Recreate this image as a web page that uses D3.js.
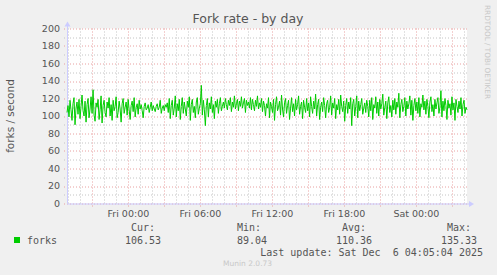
<!DOCTYPE html>
<html>
<head>
<meta charset="utf-8">
<script src="https://cdn.jsdelivr.net/npm/d3@7"></script>
<style>
  body { margin: 0; background: #f0f0f0; }
  svg { display: block; }
  text { font-family: "DejaVu Sans", sans-serif; }
  .mono { font-family: "DejaVu Sans Mono", monospace; }
</style>
</head>
<body>
<div id="chart"></div>
<script>
// svg container
var svgWidth = 497;
var svgHeight = 275;

// plot area
var margin = { top: 28.5, left: 67, right: 30, bottom: 71.5 };
var width = 400;
var height = 175;

// data - forks/second, one sample per 5 minutes
var startTime = new Date(Date.UTC(2025, 11, 4, 18, 53));
var endTime = new Date(Date.UTC(2025, 11, 6, 4, 13));

var forks = [
  104,112,99,118,107,95,114,121,90,109,116,102,119,97,111,124,106,100,117,93,
  113,120,98,108,122,103,130,101,94,115,110,119,96,107,123,92,112,118,104,99,
  116,109,121,100,113,95,118,106,111,122,98,104,117,108,93,114,120,103,110,116,
  101,119,107,96,112,117,105,121,99,110,114,102,118,108,113,106,98,111,115,107,
  109,113,104,110,116,106,112,108,105,111,114,107,110,118,103,109,112,106,113,110,
  115,104,120,97,112,118,101,109,123,99,114,106,119,96,111,121,103,116,108,100,
  117,110,122,95,113,119,104,111,98,116,121,102,109,114,135,101,118,107,89,112,
  120,99,115,108,122,104,113,97,117,110,119,103,114,121,106,111,116,109,120,113,
  107,118,112,121,105,116,110,123,108,114,119,106,117,111,122,109,115,120,104,118,
  112,116,109,121,107,119,113,106,118,111,123,108,115,110,120,105,117,112,100,114,
  109,121,98,116,111,104,119,95,113,122,106,110,117,101,124,108,99,115,120,103,
  112,118,96,109,121,105,114,100,119,107,113,123,102,111,116,97,118,110,104,120,
  106,115,99,122,111,103,117,108,125,100,113,119,96,110,116,105,121,112,98,114,
  118,104,110,123,101,115,109,120,97,113,107,119,102,124,111,105,117,94,112,120,
  103,116,108,121,89,114,119,100,111,123,98,117,106,113,120,102,109,115,104,118,
  111,99,118,106,121,96,113,109,122,103,116,100,119,108,114,125,101,110,117,97,
  115,122,104,112,99,118,107,120,102,116,110,126,98,113,119,105,111,121,100,117,
  108,114,123,101,118,95,112,120,106,116,103,121,99,114,110,124,107,117,102,119,
  111,98,116,122,105,113,100,119,108,115,121,103,110,129,99,117,106,120,112,96,
  118,109,114,101,122,107,115,95,119,111,104,117,108,121,100,113,118,103,110,107
];

var yTicks = [0, 20, 40, 60, 80, 100, 120, 140, 160, 180, 200];

var legendLabels = ["Cur:", "Min:", "Avg:", "Max:"];
var legendValues = ["106.53", "89.04", "110.36", "135.33"];
var legendRight = [155, 261, 366, 471];

var svg = d3.select("#chart")
  .append("svg")
  .attr("width", svgWidth)
  .attr("height", svgHeight);

svg.append("rect")
  .attr("width", svgWidth)
  .attr("height", svgHeight)
  .attr("fill", "#f0f0f0");

var chartGroup = svg.append("g")
  .attr("transform", `translate(${margin.left}, ${margin.top})`);

// scales
var xScale = d3.scaleUtc()
  .domain([startTime, endTime])
  .range([0, width]);

var yScale = d3.scaleLinear()
  .domain([0, 200])
  .range([height, 0]);

// plot background
chartGroup.append("rect")
  .attr("width", width)
  .attr("height", height)
  .attr("fill", "#ffffff");

// minor grid
var hours = xScale.ticks(d3.utcHour.every(1));
var minorY = d3.range(10, 201, 20);

chartGroup.selectAll(".vminor")
  .data(hours.filter(d => d.getUTCHours() % 3 !== 0))
  .enter()
  .append("line")
  .attr("x1", d => Math.round(xScale(d)) + 0.5)
  .attr("x2", d => Math.round(xScale(d)) + 0.5)
  .attr("y1", 0)
  .attr("y2", height + 2)
  .attr("stroke", "#c4c4c4")
  .attr("stroke-dasharray", "1,2");

chartGroup.selectAll(".hminor")
  .data(minorY)
  .enter()
  .append("line")
  .attr("x1", -3)
  .attr("x2", width + 2)
  .attr("y1", d => Math.round(yScale(d)) + 0.5)
  .attr("y2", d => Math.round(yScale(d)) + 0.5)
  .attr("stroke", "#c4c4c4")
  .attr("stroke-dasharray", "1,2");

// major grid
chartGroup.selectAll(".vmajor")
  .data(hours.filter(d => d.getUTCHours() % 3 === 0))
  .enter()
  .append("line")
  .attr("x1", d => Math.round(xScale(d)) + 0.5)
  .attr("x2", d => Math.round(xScale(d)) + 0.5)
  .attr("y1", 0)
  .attr("y2", height + 3)
  .attr("stroke", "#e8a0a0")
  .attr("stroke-dasharray", "1,2");

chartGroup.selectAll(".hmajor")
  .data(yTicks)
  .enter()
  .append("line")
  .attr("x1", -3)
  .attr("x2", width + 2)
  .attr("y1", d => Math.round(yScale(d)) + 0.5)
  .attr("y2", d => Math.round(yScale(d)) + 0.5)
  .attr("stroke", "#e8a0a0")
  .attr("stroke-dasharray", "1,2");

// y tick labels
chartGroup.selectAll(".ylab")
  .data(yTicks)
  .enter()
  .append("text")
  .attr("x", -7)
  .attr("y", d => yScale(d))
  .attr("dy", "0.35em")
  .attr("text-anchor", "end")
  .attr("font-size", "9.5px")
  .attr("fill", "#555")
  .text(d => d);

// x tick labels
var fmt = d3.utcFormat("%a %H:%M");
chartGroup.selectAll(".xlab")
  .data(xScale.ticks(d3.utcHour.every(6)))
  .enter()
  .append("text")
  .attr("x", d => xScale(d))
  .attr("y", height + 13)
  .attr("text-anchor", "middle")
  .attr("font-size", "9.5px")
  .attr("fill", "#555")
  .text(d => fmt(d));

// axes
chartGroup.append("line")
  .attr("x1", 0.5).attr("x2", 0.5)
  .attr("y1", height).attr("y2", -4)
  .attr("stroke", "#ccccff");
chartGroup.append("path")
  .attr("d", "M-2.5,-2 L3.5,-2 L0.5,-7 Z")
  .attr("fill", "#ccccff");
chartGroup.append("line")
  .attr("x1", 0).attr("x2", width + 4)
  .attr("y1", height + 0.5).attr("y2", height + 0.5)
  .attr("stroke", "#ccccff");
chartGroup.append("path")
  .attr("d", `M${width + 2},${height - 2.5} L${width + 2},${height + 3.5} L${width + 7},${height + 0.5} Z`)
  .attr("fill", "#ccccff");

// the line
var step = (endTime - startTime) / (forks.length - 1);
var line = d3.line()
  .x((d, i) => xScale(new Date(startTime.getTime() + i * step)))
  .y(d => yScale(d));

chartGroup.append("path")
  .datum(forks)
  .attr("d", line)
  .attr("fill", "none")
  .attr("stroke", "#00cc00")
  .attr("stroke-width", 1);

// title
svg.append("text")
  .attr("x", 248)
  .attr("y", 23)
  .attr("text-anchor", "middle")
  .attr("font-size", "12.5px")
  .attr("fill", "#555")
  .text("Fork rate - by day");

// y axis label
svg.append("text")
  .attr("transform", `translate(14, ${margin.top + height / 2}) rotate(-90)`)
  .attr("text-anchor", "middle")
  .attr("font-size", "10.5px")
  .attr("fill", "#555")
  .text("forks / second");

// watermark
svg.append("text")
  .attr("transform", "translate(485, 5) rotate(90)")
  .attr("font-size", "7.3px")
  .attr("fill", "#c8c8c8")
  .text("RRDTOOL / TOBI OETIKER");

// legend
svg.append("rect")
  .attr("x", 14).attr("y", 237)
  .attr("width", 6).attr("height", 6)
  .attr("fill", "#00cc00");

svg.append("text")
  .attr("class", "mono")
  .attr("x", 27).attr("y", 243.5)
  .attr("font-size", "10px")
  .attr("fill", "#555")
  .text("forks");

svg.selectAll(".leglab")
  .data(legendLabels)
  .enter()
  .append("text")
  .attr("class", "mono")
  .attr("x", (d, i) => legendRight[i])
  .attr("y", 231)
  .attr("text-anchor", "end")
  .attr("font-size", "10px")
  .attr("fill", "#555")
  .text(d => d);

svg.selectAll(".legval")
  .data(legendValues)
  .enter()
  .append("text")
  .attr("class", "mono")
  .attr("x", (d, i) => legendRight[i] + 6)
  .attr("y", 243.5)
  .attr("text-anchor", "end")
  .attr("font-size", "10px")
  .attr("fill", "#555")
  .text(d => d);

svg.append("text")
  .attr("class", "mono")
  .attr("x", 483).attr("y", 255.5)
  .attr("text-anchor", "end")
  .attr("font-size", "10px")
  .attr("fill", "#555")
  .attr("xml:space", "preserve")
  .style("white-space", "pre")
  .text("Last update: Sat Dec  6 04:05:04 2025");

svg.append("text")
  .attr("x", 223).attr("y", 266)
  .attr("font-size", "7.5px")
  .attr("fill", "#c8c8c8")
  .text("Munin 2.0.73");
</script>
</body>
</html>
